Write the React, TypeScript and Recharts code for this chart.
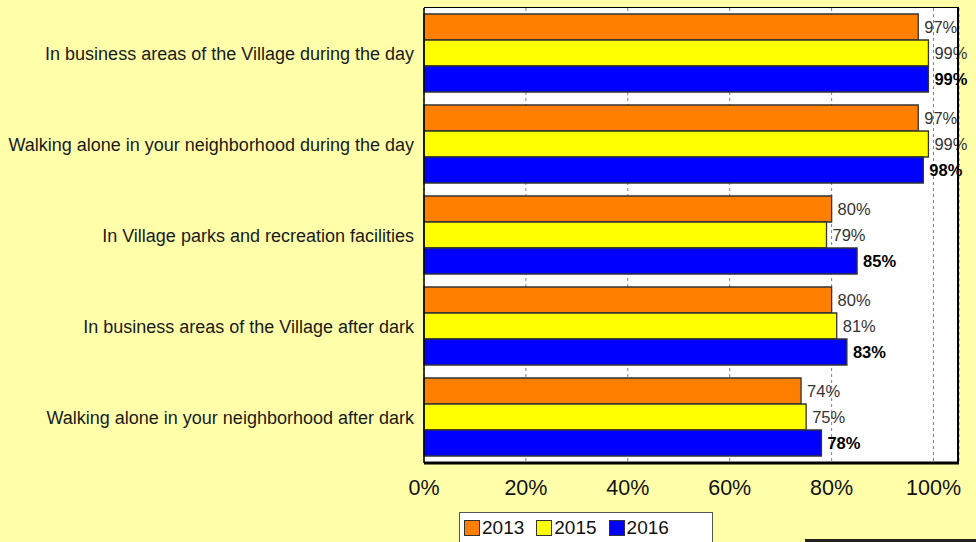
import React from 'react';
import {
  BarChart,
  Bar,
  XAxis,
  YAxis,
  CartesianGrid,
  LabelList,
} from 'recharts';

const categories = [
  'In business areas of the Village during the day',
  'Walking alone in your neighborhood during the day',
  'In Village parks and recreation facilities',
  'In business areas of the Village after dark',
  'Walking alone in your neighborhood after dark',
];
const values2013 = [97, 97, 80, 80, 74];
const values2015 = [99, 99, 79, 81, 75];
const values2016 = [99, 98, 85, 83, 78];
const xTicks = [0, 20, 40, 60, 80, 100];

const seriesColors: { [key: string]: string } = {
  '2013': '#FF8000',
  '2015': '#FFFF00',
  '2016': '#0000FF',
};

const FONT = '"Liberation Sans", Arial, sans-serif';
const BG = '#FFFFAA';

const data = categories.map((name, i) => ({
  name,
  y2013: values2013[i],
  y2015: values2015[i],
  y2016: values2016[i],
}));

const pct = (v: any) => `${v}%`;

const App: React.FC = () => {
  return (
    <div
      style={{
        position: 'absolute',
        left: 0,
        top: 0,
        width: 976,
        height: 542,
        background: BG,
        overflow: 'hidden',
        fontFamily: FONT,
      }}
    >
      <BarChart
        width={976}
        height={542}
        data={data}
        layout="vertical"
        margin={{ top: 8, right: 17, bottom: 39, left: 0 }}
        barCategoryGap={6}
        barGap={0}
      >
        <CartesianGrid
          horizontal={false}
          vertical
          fill="#FFFFFF"
          stroke="#808080"
          strokeDasharray="3 3"
        />
        <XAxis
          type="number"
          domain={[0, 105]}
          ticks={xTicks}
          tickFormatter={pct}
          tickLine={false}
          tickMargin={11}
          height={40}
          axisLine={{ stroke: '#000', strokeWidth: 3 }}
          tick={{ fill: '#111', fontSize: 21.5, fontFamily: FONT }}
        />
        <YAxis
          type="category"
          dataKey="name"
          width={424}
          tickLine={false}
          tickMargin={4}
          axisLine={{ stroke: '#000', strokeWidth: 1.5 }}
          tick={{ fill: '#1a1a1a', fontSize: 18, fontFamily: FONT }}
          interval={0}
        />
        <Bar dataKey="y2013" name="2013" fill={seriesColors['2013']} stroke="#333" strokeWidth={1.3} isAnimationActive={false}>
          <LabelList dataKey="y2013" position="right" offset={6} formatter={pct} fill="#333" fontSize={16.5} fontFamily={FONT} />
        </Bar>
        <Bar dataKey="y2015" name="2015" fill={seriesColors['2015']} stroke="#333" strokeWidth={1.3} isAnimationActive={false}>
          <LabelList dataKey="y2015" position="right" offset={6} formatter={pct} fill="#333" fontSize={16.5} fontFamily={FONT} />
        </Bar>
        <Bar dataKey="y2016" name="2016" fill={seriesColors['2016']} stroke="#333" strokeWidth={1.3} isAnimationActive={false}>
          <LabelList dataKey="y2016" position="right" offset={6} formatter={pct} fill="#000" fontSize={16.5} fontWeight="bold" fontFamily={FONT} />
        </Bar>
      </BarChart>

      {/* plot frame: top and right edges (bottom/left come from the axes) */}
      <div
        style={{
          position: 'absolute',
          left: 424,
          top: 7,
          width: 535,
          height: 456,
          borderTop: '1.5px solid #000',
          borderRight: '2.5px solid #000',
          boxSizing: 'border-box',
          pointerEvents: 'none',
        }}
      />

      {/* legend box */}
      <div
        style={{
          position: 'absolute',
          left: 459,
          top: 512,
          width: 254,
          height: 40,
          background: '#fff',
          border: '1px solid #555',
          display: 'flex',
          alignItems: 'flex-start',
          paddingTop: 5,
          paddingLeft: 4,
          boxSizing: 'border-box',
          gap: 12,
        }}
      >
        {Object.entries(seriesColors).map(([year, color]) => (
          <span key={year} style={{ display: 'inline-flex', alignItems: 'center', fontSize: 19, color: '#111', lineHeight: '20px' }}>
            <span
              style={{
                width: 14,
                height: 14,
                background: color,
                border: '1.5px solid #333',
                marginRight: 2,
                display: 'inline-block',
              }}
            />
            {year}
          </span>
        ))}
      </div>

      {/* partial box edge at lower right */}
      <div
        style={{
          position: 'absolute',
          left: 805,
          top: 539,
          width: 171,
          height: 3,
          background: '#222',
        }}
      />
    </div>
  );
};

export default App;
